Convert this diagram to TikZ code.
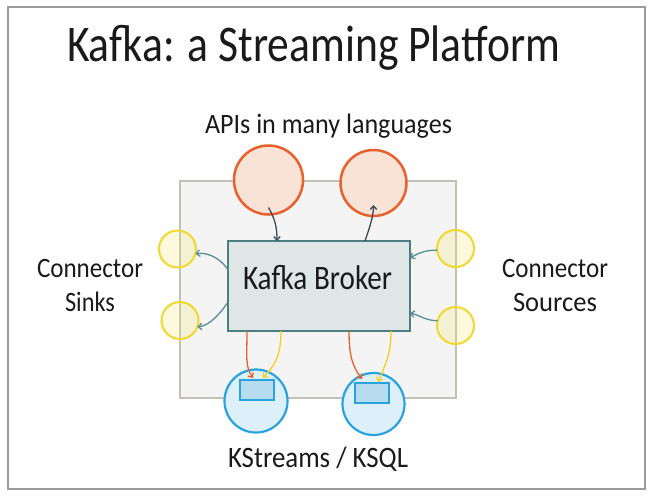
\documentclass[tikz,border=0pt]{standalone}
\usepackage{graphicx}
\usepackage{fontspec}
\setmainfont{Carlito}
\usetikzlibrary{arrows.meta}
\definecolor{framegray}{HTML}{9A9A9A}
\definecolor{panelfill}{HTML}{F4F4F4}
\definecolor{paneldraw}{HTML}{C4C0B8}
\definecolor{apiorange}{HTML}{E8602C}
\definecolor{apifill}{HTML}{F9E2D6}
\definecolor{connyellow}{HTML}{F0D82C}
\definecolor{connfill}{HTML}{F3E466}
\definecolor{brokerfill}{HTML}{DEE6E6}
\definecolor{brokerdraw}{HTML}{4E7F80}
\definecolor{tealarrow}{HTML}{5A8E90}
\definecolor{darkarrow}{HTML}{3A4A56}
\definecolor{ksblue}{HTML}{2AA2DE}
\definecolor{ksfill}{HTML}{DDF0FA}
\definecolor{ksrect}{HTML}{B8DCEF}
\definecolor{inkblack}{HTML}{1A1A1A}
\definecolor{yellowarrow}{HTML}{F0D020}
\newcommand{\fittext}[3]{\resizebox{#1}{#2}{\raisebox{0pt}[\fontcharht\font`X][0pt]{#3}}}
\tikzset{
  lbl/.style={anchor=base west, inner sep=0, outer sep=0, text=inkblack},
  apic/.style={circle, draw=apiorange, line width=2.5pt, fill=apifill, inner sep=0, outer sep=0},
  connc/.style={circle, draw=connyellow, line width=2pt, fill=connfill, fill opacity=0.22, draw opacity=1, inner sep=0, outer sep=0},
  ksc/.style={circle, draw=ksblue, line width=2.2pt, fill=ksfill, inner sep=0, outer sep=0},
  ksr/.style={rectangle, draw=ksblue, line width=1.4pt, fill=ksrect, minimum width=34pt, minimum height=20pt, inner sep=0, outer sep=0},
  tip/.style={-{Straight Barb[length=3.5pt,width=6.5pt]}},
  darr/.style={tip, draw=darkarrow, line width=1.3pt},
  tarr/.style={tip, draw=tealarrow, line width=1.3pt},
  oarr/.style={tip, draw=apiorange, line width=1.3pt},
  yarr/.style={tip, draw=yellowarrow, line width=1.3pt},
}
\begin{document}
\begin{tikzpicture}[x=1pt, y=-1pt]
\useasboundingbox (0,0) rectangle (650,499);
\fill[white] (0,0) rectangle (650,499);
\draw[framegray, line width=1.5pt] (8,7) rectangle (645,489);

% title
\node[lbl] (title) at (67,61) {\fittext{493pt}{33pt}{Kafka: a Streaming Platform}};
\node[lbl] (apis) at (205,133) {\fittext{247pt}{18pt}{APIs in many languages}};

% panel
\node[rectangle, draw=paneldraw, fill=panelfill, line width=2pt, minimum width=276pt, minimum height=217pt, inner sep=0, outer sep=0] (panel) at (318,289.5) {};

% API circles
\node[apic, minimum size=69pt] (api1) at (268.5,180) {};
\node[apic, minimum size=66pt] (api2) at (373.5,183) {};

% connector circles
\node[connc, minimum size=37pt] (sink1) at (177.5,249) {};
\node[connc, minimum size=37pt] (sink2) at (180,320.5) {};
\node[connc, minimum size=37pt] (src1) at (455.5,248.5) {};
\node[connc, minimum size=37pt] (src2) at (455.5,325.5) {};

% KStreams circles
\node[ksc, minimum size=63pt] (ks1) at (256,401) {};
\node[ksc, minimum size=62pt] (ks2) at (373.5,404) {};
\node[ksr] (r1) at (257,390) {};
\node[ksr] (r2) at (372,393) {};

% broker
\node[rectangle, draw=brokerdraw, fill=brokerfill, line width=2pt, minimum width=182pt, minimum height=90pt, inner sep=0, outer sep=0] (broker) at (319,286) {};
\node[lbl] (brokerlbl) at (243,289) {\fittext{149pt}{22pt}{Kafka Broker}};

% side labels
\node[lbl] (sinkA) at (37,277) {\fittext{106pt}{18pt}{Connector}};
\node[lbl] (sinkB) at (65,311.5) {\fittext{50pt}{18pt}{Sinks}};
\node[lbl] (srcA) at (502,277) {\fittext{106pt}{18pt}{Connector}};
\node[lbl] (srcB) at (513,311.5) {\fittext{84pt}{18pt}{Sources}};
\node[lbl] (kslbl) at (228,467) {\fittext{180pt}{19pt}{KStreams / KSQL}};

% API arrows
\draw[darr] ([yshift=7pt]api1.south) .. controls +(7,12) and +(0,-12) .. ([xshift=-42pt]broker.north);
\draw[darr] ([xshift=46pt]broker.north) .. controls +(4,-12) and +(0,12) .. ([yshift=11pt]api2.south);

% sink arrows
\draw[tarr] ([yshift=16pt]broker.west) .. controls +(-6,-10) and +(14,-2) .. (sink1.-15);
\draw[tarr] ([yshift=-16pt]broker.west) .. controls +(-6,9) and +(13,-1) .. (sink2.-20);

% source arrows
\draw[tarr] (src1.185) .. controls +(-12,0) and +(9,-5) .. ([yshift=28pt]broker.east);
\draw[tarr] (src2.165) .. controls +(-12,0) and +(9,2) .. ([yshift=-27pt]broker.east);

% stream arrows
\draw[oarr] ([xshift=-72pt]broker.south) .. controls +(0,26) and +(-8,-12) .. ([xshift=-4pt,yshift=2pt]r1.north);
\draw[yarr] ([xshift=-38pt]broker.south) .. controls +(0,26) and +(11,-12) .. ([xshift=6pt,yshift=2pt]r1.north);
\draw[oarr] ([xshift=30pt]broker.south) .. controls +(0,26) and +(-9,-12) .. ([xshift=-10pt,yshift=4pt]r2.north);
\draw[yarr] ([xshift=72pt]broker.south) .. controls +(0,26) and +(6,-15) .. ([xshift=6pt,yshift=1pt]r2.north);
\end{tikzpicture}
\end{document}
